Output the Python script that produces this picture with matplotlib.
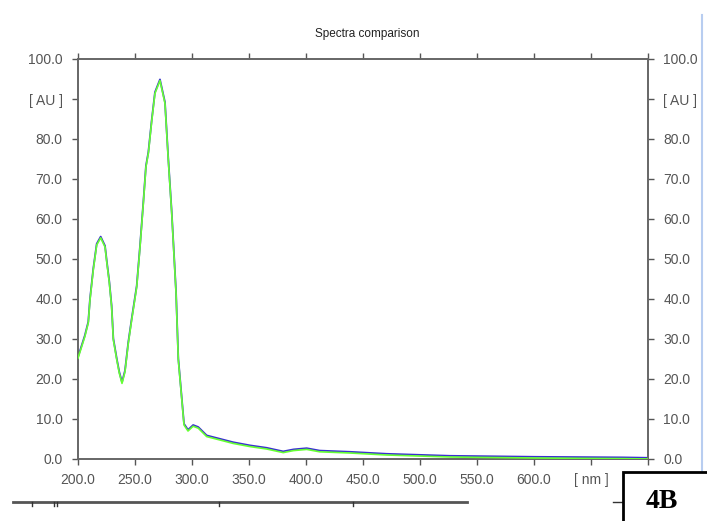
import numpy as np
import matplotlib.pyplot as plt
from matplotlib.patches import Rectangle
from matplotlib.lines import Line2D

# spectrum (nm, AU)
wavelength = [200, 206, 209, 210.5, 213.4, 216.4, 219.9, 223.7, 225.2, 227.5, 229.5,
              231, 234, 236.2, 238.6, 241.2, 244.1, 247.1, 251.5, 254.4, 257.3,
              259.6, 261.7, 264.6, 267.5, 271.9, 276.3, 279.2, 282.2, 286, 288,
              293, 296.5, 301, 305.5, 312.9, 324.5, 336, 351, 365.5, 380, 389,
              400.6, 412, 438.5, 470.7, 526, 600, 678, 700]
absorbance = [25.2, 30.6, 34, 39.7, 47.3, 53.5, 55.3, 53, 49.3, 44, 38,
              29.8, 24.8, 21.5, 18.9, 21.8, 28.9, 34.8, 43, 53, 63.9,
              73, 76.4, 84.3, 91.4, 94.6, 88.9, 74.8, 61.5, 41.5, 24.8,
              8.5, 7.0, 8.2, 7.7, 5.6, 4.75, 3.9, 3.1, 2.5, 1.6, 2.1,
              2.4, 1.8, 1.5, 1.0, 0.5, 0.25, 0.1, 0.0]
x_ticks = [200, 250, 300, 350, 400, 450, 500, 550, 600, 650, 700]
x_labels = ['200.0', '250.0', '300.0', '350.0', '400.0', '450.0', '500.0',
            '550.0', '600.0', '[ nm ]', '700.0']
y_ticks = [0, 10, 20, 30, 40, 50, 60, 70, 80, 90, 100]
y_labels = ['0.0', '10.0', '20.0', '30.0', '40.0', '50.0', '60.0', '70.0',
            '80.0', '[ AU ]', '100.0']

plt.rcParams['font.family'] = ['Liberation Sans', 'DejaVu Sans']
W, H = 707, 521
fig = plt.figure(figsize=(W / 100, H / 100), dpi=100)
ax = fig.add_axes([78 / W, (H - 459) / H, 570 / W, 400 / H])

wl = np.array(wavelength)
ab = np.array(absorbance)
# second spectrum sits just under the first, only peeks out on the tail
ax.plot(wl, ab + 0.3, color='#3a2fd0', lw=1.3, zorder=2)
ax.plot(wl, ab, color='#66ff33', lw=1.2, zorder=3)

ax.set_xlim(200, 700)
ax.set_ylim(0, 100)
ax.set_xticks(x_ticks)
ax.set_xticklabels(x_labels)
ax.set_yticks(y_ticks)
ax.set_yticklabels(y_labels)
ax.tick_params(direction='out', length=4, width=1, color='#555555',
               labelcolor='#555555', labelsize=10, top=True, right=True,
               labelright=True, pad=7)
ax.tick_params(axis='x', pad=6)
for s in ax.spines.values():
    s.set_color('#666666')
    s.set_linewidth(1.4)

fig.text(367 / W, 1 - 34 / H, 'Spectra comparison', ha='center', va='center',
         fontsize=8.5, color='#222222')

# page furniture around the chart
fig.add_artist(Line2D([13 / W, 467 / W], [1 - 502 / H] * 2, color='#555555', lw=2))
for xp in [32, 54, 57, 219, 353]:
    fig.add_artist(Line2D([xp / W] * 2, [1 - 502 / H, 1 - 506 / H], color='#333333', lw=1))
fig.add_artist(Line2D([613 / W, 623 / W], [1 - 502 / H] * 2, color='#333333', lw=1))
fig.add_artist(Line2D([702 / W] * 2, [1 - 15 / H, 1 - 482 / H], color='#b8cdf0', lw=1.5))
fig.add_artist(Rectangle((623 / W, -0.05), 0.2, (521 - 472) / H + 0.05,
                         transform=fig.transFigure, facecolor='white',
                         edgecolor='black', lw=2, zorder=10))
fig.text(662 / W, 1 - 501 / H, '4B', ha='center', va='center', fontsize=20,
         fontweight='bold', family='Liberation Serif', zorder=11)

fig.savefig('out.png', dpi=100)
